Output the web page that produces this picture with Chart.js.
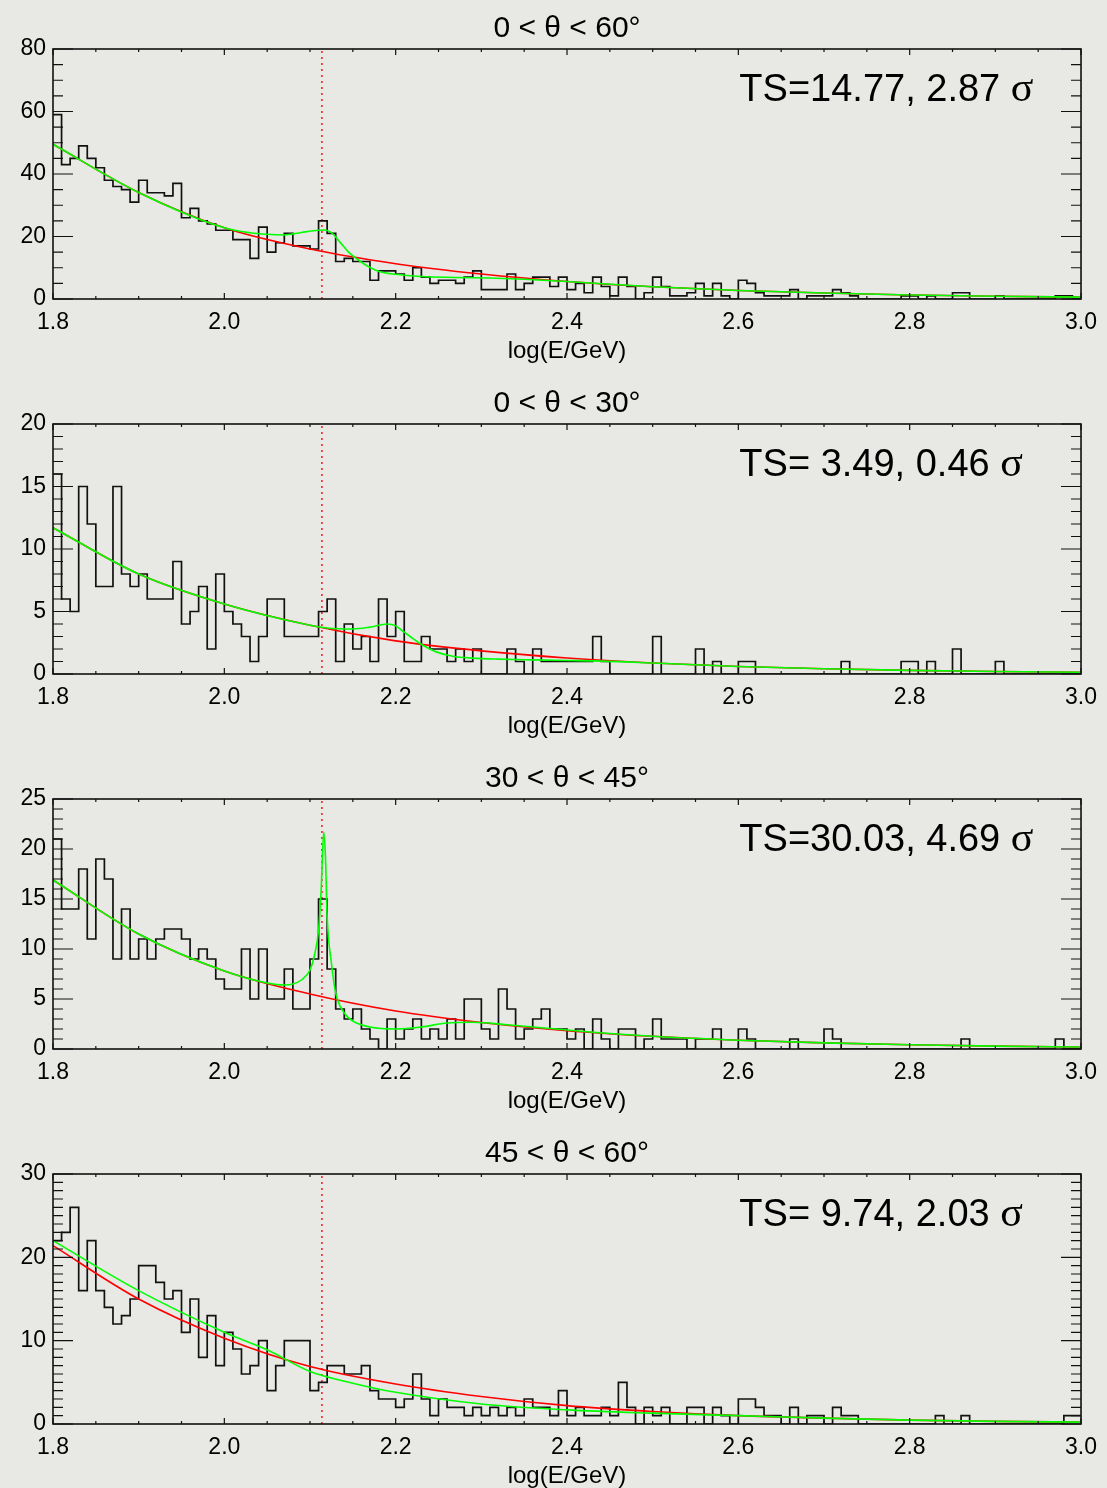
<!DOCTYPE html>
<html>
<head>
<meta charset="utf-8">
<script src="https://cdn.jsdelivr.net/npm/chart.js@4.4.0/dist/chart.umd.min.js"></script>
<style>
  html, body { margin: 0; padding: 0; background: #e8e8e4; overflow: hidden; }
  canvas { display: block; }
</style>
</head>
<body>
<div id="wrap"></div>
<script>
// histogram bins: log(E/GeV) from 1.8 in steps of 0.01
const binStart = 1.8;
const binWidth = 0.01;
const lineE = 2.1139; // log10(130 GeV), dotted marker

const titles = ['0 < \u03b8 < 60\u00b0', '0 < \u03b8 < 30\u00b0', '30 < \u03b8 < 45\u00b0', '45 < \u03b8 < 60\u00b0'];
const tsLabels = ['TS=14.77, 2.87', 'TS= 3.49, 0.46', 'TS=30.03, 4.69', 'TS= 9.74, 2.03'];
const yMax = [80, 20, 25, 30];
const yMajor = [20, 5, 5, 10];
const yMinor = [5, 1, 1, 1];

const counts1 = [59, 43, 45, 49, 45, 42, 38, 36, 35, 31,
  38, 34, 34, 33, 37, 26, 29, 25, 24, 22,
  22, 19, 19, 13, 23, 15, 18, 21, 17, 17,
  16, 25, 21, 12, 13, 12, 12, 6, 9, 9,
  8, 6, 10, 7, 5, 6, 6, 5, 7, 9,
  3, 3, 3, 8, 3, 5, 7, 7, 4, 7,
  3, 5, 2, 7, 4, 1, 7, 4, 0, 2,
  7, 4, 1, 1, 2, 5, 1, 5, 1, 0,
  6, 5, 2, 1, 1, 1, 3, 0, 1, 1,
  1, 3, 2, 1, 0, 0, 0, 0, 0, 1,
  1, 0, 1, 0, 0, 2, 2, 0, 0, 0,
  1, 0, 0, 0, 0, 0, 0, 1, 1, 0];

const counts2 = [16, 6, 5, 15, 12, 7, 7, 15, 8, 7,
  8, 6, 6, 6, 9, 4, 5, 7, 2, 8,
  5, 4, 3, 1, 3, 6, 6, 3, 3, 3,
  3, 5, 6, 1, 4, 2, 3, 1, 6, 3,
  5, 1, 1, 3, 2, 2, 1, 2, 1, 2,
  0, 0, 0, 2, 1, 0, 2, 1, 1, 1,
  1, 1, 1, 3, 1, 0, 0, 0, 0, 0,
  3, 0, 0, 0, 0, 2, 0, 1, 0, 0,
  1, 1, 0, 0, 0, 0, 0, 0, 0, 0,
  0, 0, 1, 0, 0, 0, 0, 0, 0, 1,
  1, 0, 1, 0, 0, 2, 0, 0, 0, 0,
  1, 0, 0, 0, 0, 0, 0, 0, 0, 0];

const counts3 = [21, 14, 14, 18, 11, 19, 17, 9, 14, 9,
  11, 9, 11, 12, 12, 11, 9, 10, 9, 7,
  6, 6, 10, 5, 10, 5, 5, 8, 4, 4,
  9, 15, 8, 4, 3, 4, 2, 1, 0, 3,
  1, 2, 3, 1, 2, 1, 3, 1, 5, 5,
  2, 1, 6, 4, 1, 2, 3, 4, 2, 2,
  1, 2, 0, 3, 1, 0, 2, 2, 0, 1,
  3, 1, 1, 1, 0, 1, 1, 2, 0, 0,
  2, 1, 0, 0, 0, 0, 1, 0, 0, 0,
  2, 1, 0, 0, 0, 0, 0, 0, 0, 0,
  0, 0, 0, 0, 0, 0, 1, 0, 0, 0,
  0, 0, 0, 0, 0, 0, 0, 1, 0, 0];

const counts4 = [22, 23, 26, 16, 22, 16, 14, 12, 13, 15,
  19, 19, 17, 15, 16, 11, 15, 8, 13, 7,
  11, 9, 6, 7, 10, 4, 7, 10, 10, 10,
  4, 5, 7, 7, 6, 6, 7, 4, 3, 3,
  2, 3, 6, 3, 1, 3, 2, 2, 1, 2,
  1, 2, 1, 2, 1, 3, 2, 2, 1, 4,
  1, 2, 1, 1, 2, 1, 5, 2, 0, 2,
  1, 2, 0, 0, 2, 2, 0, 2, 1, 0,
  3, 3, 2, 1, 1, 0, 2, 0, 1, 1,
  0, 2, 1, 1, 0, 0, 0, 0, 0, 0,
  0, 0, 0, 1, 0, 0, 1, 0, 0, 0,
  0, 0, 0, 0, 0, 0, 0, 0, 1, 1];

// background fits (red), read at these energies
const fitX = [1.8, 1.9, 2.0, 2.1, 2.2, 2.3, 2.4, 2.5, 2.6, 2.7, 2.8, 2.9, 3.0];
const red1 = [49.5, 34.1, 22.8, 16.0, 11.3, 8.0, 5.6, 3.9, 2.7, 1.9, 1.3, 0.9, 0.6];
const red2 = [11.7, 8.0, 5.6, 3.9, 2.65, 1.85, 1.28, 0.88, 0.6, 0.42, 0.29, 0.2, 0.14];
const red3 = [16.9, 11.5, 7.8, 5.5, 3.8, 2.65, 1.83, 1.27, 0.88, 0.61, 0.42, 0.29, 0.2];
const red4 = [21.4, 15.0, 10.3, 6.9, 4.8, 3.3, 2.2, 1.5, 1.0, 0.7, 0.47, 0.32, 0.22];

// background + line fits (green)
const greenX1 = [1.8, 1.9, 2.0, 2.03, 2.05, 2.07, 2.09, 2.11, 2.117, 2.126, 2.135, 2.145, 2.155, 2.165, 2.18, 2.2, 2.23, 2.27, 2.31, 2.35, 2.4, 2.5, 2.6, 2.7, 2.8, 2.9, 3.0];
const green1 = [49.5, 34.1, 22.8, 21.2, 20.7, 20.5, 21.3, 22.0, 22.1, 21.0, 18.2, 15.0, 12.8, 10.9, 8.9, 7.9, 7.2, 6.9, 6.7, 6.3, 5.6, 3.9, 2.7, 1.9, 1.3, 0.9, 0.6];
const greenX2 = [1.8, 1.9, 2.0, 2.1, 2.12, 2.15, 2.17, 2.19, 2.2, 2.207, 2.217, 2.227, 2.237, 2.248, 2.268, 2.29, 2.32, 2.36, 2.4, 2.43, 2.5, 2.6, 2.7, 2.8, 2.9, 3.0];
const green2 = [11.7, 8.0, 5.6, 3.9, 3.68, 3.6, 3.75, 4.0, 3.85, 3.5, 3.0, 2.5, 2.1, 1.75, 1.4, 1.27, 1.19, 1.13, 1.08, 1.05, 0.88, 0.6, 0.42, 0.29, 0.2, 0.14];
const greenX3 = [1.8, 1.9, 2.0, 2.05, 2.07, 2.08, 2.09, 2.1, 2.105, 2.11, 2.113, 2.116, 2.118, 2.12, 2.125, 2.13, 2.14, 2.15, 2.17, 2.2, 2.23, 2.26, 2.29, 2.33, 2.37, 2.42, 2.5, 2.6, 2.7, 2.8, 2.9, 3.0];
const green3 = [16.9, 11.5, 7.8, 6.6, 6.4, 6.5, 6.9, 7.9, 9.3, 11.9, 15.9, 21.7, 19.3, 13.3, 8.6, 5.6, 3.6, 2.8, 2.2, 2.0, 2.2, 2.6, 2.67, 2.43, 2.13, 1.75, 1.27, 0.88, 0.61, 0.42, 0.29, 0.2];
const greenX4 = [1.8, 1.9, 2.0, 2.05, 2.1, 2.15, 2.2, 2.3, 2.4, 2.5, 2.6, 2.7, 2.8, 2.9, 3.0];
const green4 = [22.0, 16.0, 11.0, 8.9, 6.3, 4.9, 3.8, 2.4, 1.7, 1.3, 1.0, 0.7, 0.47, 0.32, 0.22];

const FONT = "'Liberation Sans', Arial, Helvetica, sans-serif";

const panels = [
  {counts: counts1, red: red1, gx: greenX1, green: green1},
  {counts: counts2, red: red2, gx: greenX2, green: green2},
  {counts: counts3, red: red3, gx: greenX3, green: green3},
  {counts: counts4, red: red4, gx: greenX4, green: green4}
];

// box, inward ticks on all four sides, TS label
const frame = {
  id: 'frame',
  afterDatasetsDraw(chart, args, o) {
    const {ctx, chartArea: a} = chart;
    const x = chart.scales.x, y = chart.scales.y;
    ctx.save();
    ctx.strokeStyle = '#111';
    ctx.lineWidth = 1.2;
    ctx.beginPath();
    for (let i = 0; i <= 24; i++) {
      const px = x.getPixelForValue(1.8 + i * 0.05);
      const len = i % 4 === 0 ? 6 : 3;
      ctx.moveTo(px, a.bottom); ctx.lineTo(px, a.bottom - len);
      ctx.moveTo(px, a.top); ctx.lineTo(px, a.top + len);
    }
    const n = Math.round(o.max / o.minor);
    const per = Math.round(o.major / o.minor);
    for (let i = 0; i <= n; i++) {
      const py = y.getPixelForValue(i * o.minor);
      const len = i % per === 0 ? 20 : 10;
      ctx.moveTo(a.left, py); ctx.lineTo(a.left + len, py);
      ctx.moveTo(a.right, py); ctx.lineTo(a.right - len, py);
    }
    ctx.stroke();
    ctx.lineWidth = 1.6;
    ctx.strokeRect(a.left, a.top, a.right - a.left, a.bottom - a.top);

    ctx.fillStyle = '#000';
    ctx.textBaseline = 'alphabetic';
    ctx.textAlign = 'left';
    const tx = x.getPixelForValue(2.6) + 1;
    ctx.font = '38px ' + FONT;
    const s = o.ts + ' ';
    ctx.fillText(s, tx, a.top + 52);
    const w = ctx.measureText(s).width;
    ctx.font = '42px "Liberation Serif", "Times New Roman", serif';
    ctx.fillText('\u03c3', tx + w, a.top + 52);
    ctx.restore();
  }
};

const wrap = document.getElementById('wrap');

panels.forEach((p, k) => {
  const cv = document.createElement('canvas');
  cv.width = 1107;
  cv.height = 375;
  wrap.appendChild(cv);

  const hist = p.counts.map((v, i) => ({x: binStart + binWidth * i, y: v}));
  hist.push({x: 3.0, y: p.counts[p.counts.length - 1]});

  new Chart(cv, {
    type: 'line',
    data: {
      datasets: [
        {
          label: 'fit with line',
          data: p.gx.map((v, i) => ({x: v, y: p.green[i]})),
          borderColor: '#00ff00',
          borderWidth: 1.6,
          cubicInterpolationMode: 'monotone',
          pointRadius: 0,
          fill: false
        },
        {
          label: 'background fit',
          data: fitX.map((v, i) => ({x: v, y: p.red[i]})),
          borderColor: '#ff0000',
          borderWidth: 1.6,
          cubicInterpolationMode: 'monotone',
          pointRadius: 0,
          fill: false
        },
        {
          label: 'counts',
          data: hist,
          stepped: true,
          borderColor: '#111',
          borderWidth: 1.7,
          pointRadius: 0,
          fill: false
        },
        {
          label: '130 GeV',
          data: [{x: lineE, y: 0}, {x: lineE, y: yMax[k]}],
          borderColor: '#ff2020',
          borderWidth: 1.6,
          borderDash: [2, 4],
          pointRadius: 0,
          fill: false
        }
      ]
    },
    options: {
      responsive: false,
      animation: false,
      events: [],
      layout: {padding: {right: 24}},
      plugins: {
        legend: {display: false},
        tooltip: {enabled: false},
        title: {
          display: true,
          fullSize: false,
          text: titles[k],
          color: '#000',
          font: {family: FONT, size: 30, weight: 'normal'},
          padding: {top: 11, bottom: 2}
        },
        frame: {ts: tsLabels[k], max: yMax[k], major: yMajor[k], minor: yMinor[k]}
      },
      scales: {
        x: {
          type: 'linear',
          min: 1.8,
          max: 3.0,
          grid: {display: false, drawTicks: false},
          border: {display: false},
          ticks: {
            stepSize: 0.2,
            autoSkip: false,
            maxRotation: 0,
            padding: 10,
            color: '#000',
            font: {family: FONT, size: 23},
            callback: v => Number(v).toFixed(1)
          },
          title: {
            display: true,
            text: 'log(E/GeV)',
            color: '#000',
            font: {family: FONT, size: 24},
            padding: {top: 0, bottom: 9}
          },
          afterFit: s => { s.height = 76; }
        },
        y: {
          min: 0,
          max: yMax[k],
          grid: {display: false, drawTicks: false},
          border: {display: false},
          ticks: {
            stepSize: yMajor[k],
            padding: 7,
            color: '#000',
            font: {family: FONT, size: 23}
          },
          afterFit: s => { s.width = 53; }
        }
      }
    },
    plugins: [frame]
  });
});
</script>
</body>
</html>
